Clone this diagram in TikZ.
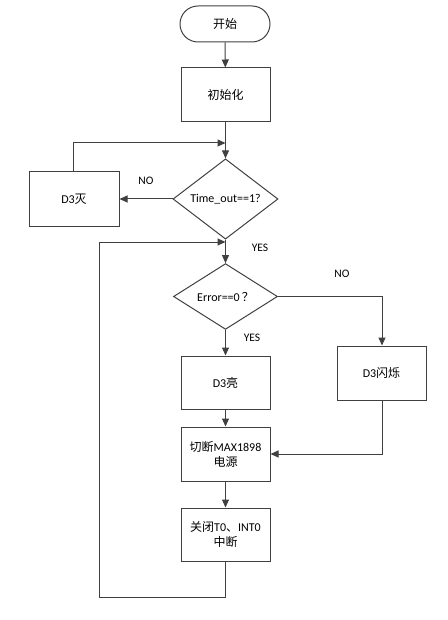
\documentclass[tikz,border=0pt]{standalone}
\usepackage{fontspec}
\setmainfont{Carlito}
\newfontfamily\cjk{Noto Sans CJK SC}
\usetikzlibrary{shapes.geometric,arrows.meta}
\definecolor{linec}{HTML}{404040}
\tikzset{
  every node/.style={font=\fontsize{12}{15}\selectfont},
  box/.style={draw=linec, line width=1pt, minimum width=89pt, minimum height=54pt, inner sep=1pt, align=center},
  term/.style={draw=linec, line width=1pt, minimum width=90pt, minimum height=36pt, rounded corners=18pt, inner sep=1pt},
  dec/.style={draw=linec, line width=1pt, diamond, minimum width=105pt, minimum height=62pt, inner sep=0pt},
  conn/.style={draw=linec, line width=1pt, -{Triangle[length=8pt,width=7pt]}},
  lbl/.style={font=\fontsize{11.5}{13}\selectfont}
}
\begin{document}
\begin{tikzpicture}[x=1pt,y=-1pt]
\useasboundingbox (0,0) rectangle (447,620);
\node[term] (start) at (225,24) {{\cjk 开始}};
\node[box] (init) at (225.5,95) {{\cjk 初始化}};
\node[dec] (dec1) at (225.5,199) {Time\_out==1?};
\node[box, minimum width=90pt] (off) at (74,199) {D3{\cjk 灭}};
\node[dec, minimum width=104pt, minimum height=63pt] (dec2) at (225.5,296.5) {Error==0\hspace{2pt}{\cjk ？}};
\node[box, minimum height=53pt] (on) at (225.5,382.5) {D3{\cjk 亮}};
\node[box] (blink) at (381.5,373) {D3{\cjk 闪烁}};
\node[box] (cut) at (225.5,454) {{\cjk 切断}MAX1898\\{\cjk 电源}};
\node[box, minimum height=53pt] (close) at (225.5,534.5) {{\cjk 关闭}T0{\cjk 、}INT0\\{\cjk 中断}};
\coordinate (m1) at (225.5,143);
\coordinate (m2) at (225.5,242);
\coordinate (offtop) at (73,143);
\coordinate (br) at (382,296.5);
\coordinate (bb) at (382,454);
\coordinate (lb) at (225.5,597);
\coordinate (ll) at (99,597);
\coordinate (lt) at (99,242);
% connectors
\draw[conn] (start) -- (init);
\draw[conn] (init) -- (dec1);
\draw[conn] (off.north -| offtop) -- (offtop) -- (m1);
\draw[conn] (dec1) -- (off);
\draw[conn] (dec1) -- (dec2);
\draw[conn] (close.south) -- (lb) -- (ll) -- (lt) -- (m2);
\draw[conn] (dec2.east) -- (br) -- (blink.north -| br);
\draw[conn] (dec2) -- (on);
\draw[conn] (on) -- (cut);
\draw[conn] (blink.south -| bb) -- (bb) -- (cut.east);
\draw[conn] (cut) -- (close);
% labels
\node[lbl] (l1) at (146,181) {NO};
\node[lbl] (l2) at (260,248) {YES};
\node[lbl] (l3) at (342,274) {NO};
\node[lbl] (l4) at (252,338) {YES};
\end{tikzpicture}
\end{document}
